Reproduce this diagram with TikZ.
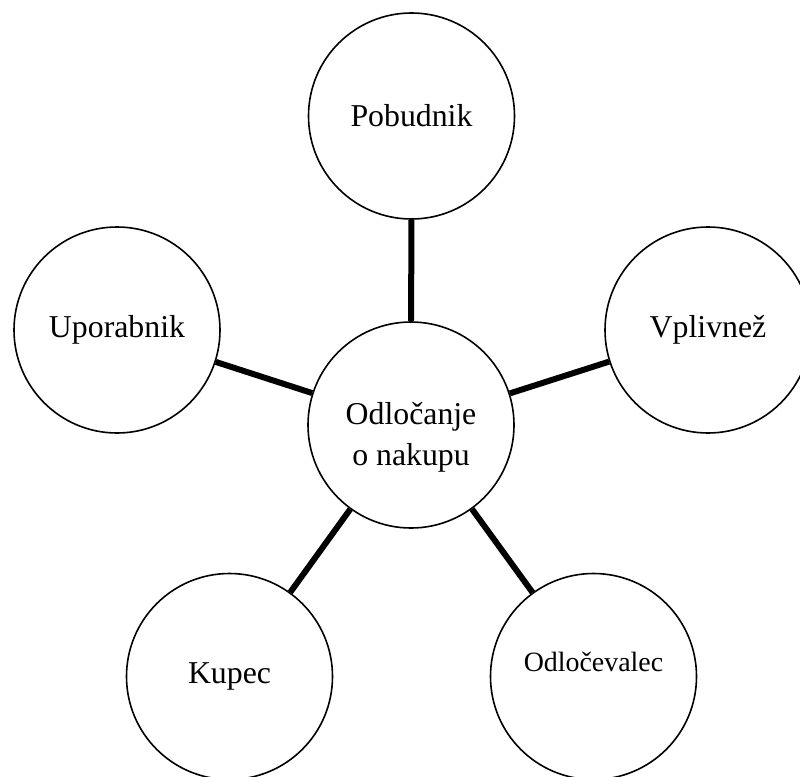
\documentclass[tikz,border=0pt]{standalone}
\usepackage{fontspec}
\setmainfont{Liberation Serif}
\begin{document}
\begin{tikzpicture}[x=1pt,y=1pt,
    krog/.style={draw,circle,line width=1.6pt,minimum size=206pt,inner sep=0pt,font=\fontsize{31.8}{41}\selectfont},
    povezava/.style={line width=6pt}]
    \useasboundingbox (0,0) rectangle (800,-776);
    \clip (0,0) rectangle (800,-776);
    \node[krog] (odl) at (411,-425) {};
    \node[align=center,font=\fontsize{31.8}{41}\selectfont] (odltxt) at ([yshift=-12pt]odl.center) {Odločanje\\o nakupu};
    \node[krog] (pob) at (411.5,-116) {Pobudnik};
    \node[krog] (upo) at (117,-330) {Uporabnik};
    \node[krog] (vpl) at (708,-330) {Vplivnež};
    \node[krog] (kup) at (229.5,-676.5) {Kupec};
    \node[krog] (odv) at (593.5,-676.5) {};
    \node[font=\fontsize{27.9}{33}\selectfont] (odvtxt) at ([yshift=15pt]odv.center) {Odločevalec};
    \draw[povezava] (odl) -- (pob);
    \draw[povezava] (odl) -- (upo);
    \draw[povezava] (odl) -- (vpl);
    \draw[povezava] (odl) -- (kup);
    \draw[povezava] (odl) -- (odv);
\end{tikzpicture}
\end{document}
